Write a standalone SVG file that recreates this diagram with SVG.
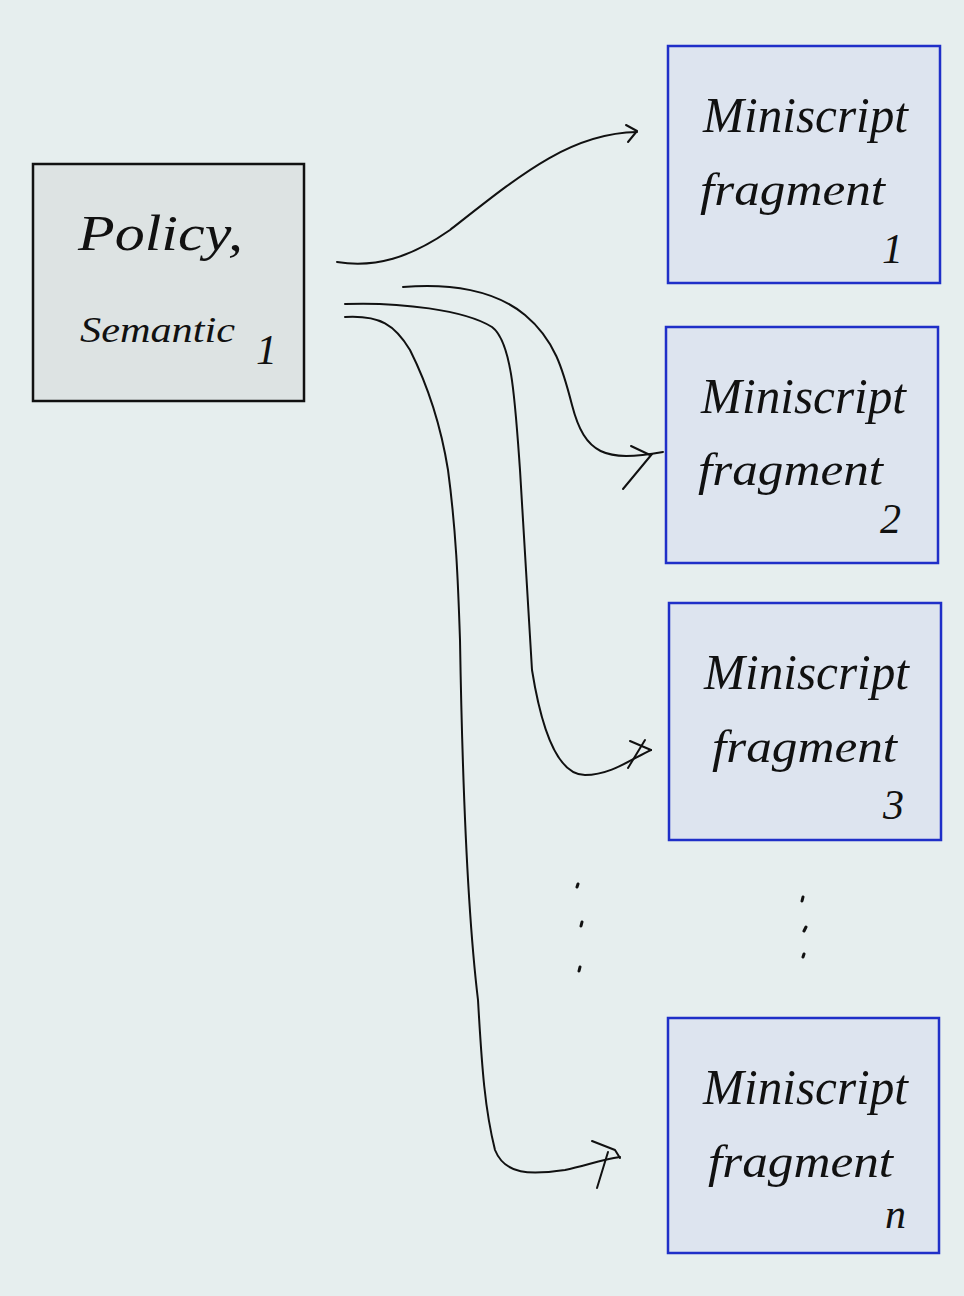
<svg xmlns="http://www.w3.org/2000/svg" width="964" height="1296" viewBox="0 0 964 1296">
<style>
.policy{fill:#dde3e3;stroke:#111;stroke-width:2.5}
.frag{fill:#dde4ef;stroke:#1f2fc8;stroke-width:2.5}
.t{font-family:"Liberation Serif",serif;font-style:italic;fill:#111}
.big{font-size:50px}
.mid{font-size:46px}
.num{font-size:42px}
.conn{fill:none;stroke:#111;stroke-width:2;stroke-linecap:round;stroke-linejoin:round}
.dot{fill:none;stroke:#111;stroke-width:3;stroke-linecap:round}
</style>
<rect width="964" height="1296" fill="#e6eeee"/>
<g id="policy">
<rect class="policy" x="33" y="164" width="271" height="237"/>
<text class="t big" x="78" y="250" textLength="165" lengthAdjust="spacingAndGlyphs">Policy,</text>
<text class="t mid" x="80" y="342" textLength="155" lengthAdjust="spacingAndGlyphs" style="font-size:36px">Semantic</text>
<text class="t num" x="256" y="364">1</text>
</g>
<g id="fragment1">
<rect class="frag" x="668" y="46" width="272" height="237"/>
<text class="t big" x="703" y="132" textLength="205" lengthAdjust="spacingAndGlyphs">Miniscript</text>
<text class="t mid" x="700" y="205" textLength="185" lengthAdjust="spacingAndGlyphs">fragment</text>
<text class="t num" x="882" y="263">1</text>
</g>
<g id="fragment2">
<rect class="frag" x="666" y="327" width="272" height="236"/>
<text class="t big" x="701" y="413" textLength="205" lengthAdjust="spacingAndGlyphs">Miniscript</text>
<text class="t mid" x="698" y="485" textLength="185" lengthAdjust="spacingAndGlyphs">fragment</text>
<text class="t num" x="880" y="533">2</text>
</g>
<g id="fragment3">
<rect class="frag" x="669" y="603" width="272" height="237"/>
<text class="t big" x="704" y="689" textLength="205" lengthAdjust="spacingAndGlyphs">Miniscript</text>
<text class="t mid" x="712" y="762" textLength="185" lengthAdjust="spacingAndGlyphs">fragment</text>
<text class="t num" x="883" y="819">3</text>
</g>
<g id="fragmentn">
<rect class="frag" x="668" y="1018" width="271" height="235"/>
<text class="t big" x="703" y="1104" textLength="205" lengthAdjust="spacingAndGlyphs">Miniscript</text>
<text class="t mid" x="708" y="1177" textLength="185" lengthAdjust="spacingAndGlyphs">fragment</text>
<text class="t num" x="885" y="1228">n</text>
</g>
<g id="connectors">
<path class="conn" d="M337,262 C375,268 410,258 450,230 C520,175 570,133 637,132"/>
<path class="conn" d="M626,125 L637,131 L628,142"/>
<path class="conn" d="M403,287 C450,283 495,290 525,315 C555,340 563,370 572,405 C585,455 605,462 663,452"/>
<path class="conn" d="M631,446 L650,455 M623,489 L652,454"/>
<path class="conn" d="M345,304 C400,302 465,310 492,327 C512,342 515,400 520,470 C526,560 529,620 532,670 C540,720 555,775 585,775 C610,775 630,760 651,750"/>
<path class="conn" d="M630,741 L651,750 M628,768 L645,740"/>
<path class="conn" d="M345,317 C380,315 395,325 410,350 C425,380 440,420 448,470 C456,530 458,580 460,640 C462,760 466,900 478,1000 C482,1070 485,1110 495,1150 C505,1175 530,1175 565,1170 C585,1166 600,1160 620,1157"/>
<path class="conn" d="M592,1141 L615,1150 L620,1158 M597,1188 L608,1152"/>
</g>
<g id="dots">
<path class="dot" d="M578,884 L577,887 M582,922 L581,926 M580,967 L579,971 M803,897 L802,901 M806,927 L804,931 M804,954 L803,957"/>
</g>
</svg>
